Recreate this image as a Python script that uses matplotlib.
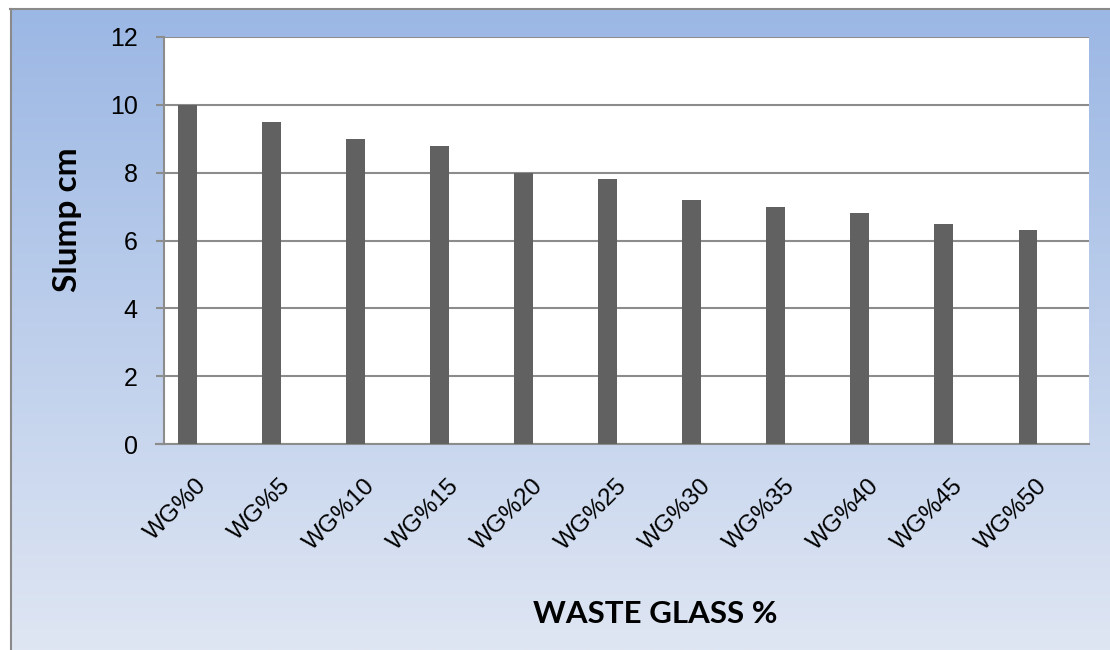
import numpy as np
import matplotlib
matplotlib.use("Agg")
import matplotlib.pyplot as plt
from matplotlib.lines import Line2D
from matplotlib.transforms import offset_copy

categories = ["WG%0", "WG%5", "WG%10", "WG%15", "WG%20", "WG%25",
              "WG%30", "WG%35", "WG%40", "WG%45", "WG%50"]
slump = [10, 9.5, 9, 8.8, 8, 7.8, 7.2, 7, 6.8, 6.5, 6.3]
yticks = [0, 2, 4, 6, 8, 10, 12]

W, H = 1110, 650
fig = plt.figure(figsize=(W / 100, H / 100), dpi=100)
fig.patch.set_facecolor("white")

# gradient background frame
bg = fig.add_axes([10 / W, 0, 1 - 10 / W, 1 - 8 / H], zorder=0)
top = np.array([155, 183, 228]) / 255
bot = np.array([223, 230, 243]) / 255
t = np.linspace(0, 1, 256)[:, None]
grad = top[None, :] * (1 - t) + bot[None, :] * t
bg.imshow(grad[:, None, :], aspect="auto", extent=[0, 1, 0, 1], origin="upper")
bg.set_axis_off()
fig.add_artist(Line2D([10 / W, 1], [1 - 8.5 / H, 1 - 8.5 / H], color="#8a8a8a", lw=1.5, transform=fig.transFigure, zorder=5))
fig.add_artist(Line2D([10.5 / W, 10.5 / W], [0, 1 - 8.5 / H], color="#8a8a8a", lw=1.5, transform=fig.transFigure, zorder=5))

ax = fig.add_axes([164 / W, 1 - 444 / H, 925 / W, (444 - 37) / H], zorder=2)
ax.set_facecolor("white")
x = np.arange(len(categories))
ax.bar(x - 0.225, slump, width=0.225, color="#616161", zorder=3)
ax.set_xlim(-0.5, len(categories) - 0.5)
ax.set_ylim(0, 12)
ax.set_yticks(yticks)
ax.set_yticklabels([str(v) for v in yticks], fontsize=18, fontfamily="Liberation Sans")
ax.yaxis.grid(True, color="#8c8c8c", lw=1.5, zorder=1)
ax.set_axisbelow(True)
for s in ["top", "right"]:
    ax.spines[s].set_visible(False)
for s in ["left", "bottom"]:
    ax.spines[s].set_color("#8c8c8c")
    ax.spines[s].set_linewidth(1.5)
ax.tick_params(axis="y", length=6, width=1.5, color="#8c8c8c", pad=13)
ax.set_xticks(x)
ax.set_xticklabels(categories, rotation=45, ha="right", va="top",
                   fontsize=17.5, fontfamily="Liberation Sans")
ax.tick_params(axis="x", length=0, pad=22)
for lb in ax.get_xticklabels():
    lb.set_transform(offset_copy(lb.get_transform(), fig=fig, x=5, y=0, units="dots"))
# extend bottom axis line to left (like tick)
ax.add_line(Line2D([-0.6, -0.5], [0, 0], color="#8c8c8c", lw=1.5, clip_on=False))

fig.text(68 / W, 1 - 220 / H, "Slump cm", rotation=90, ha="center", va="center",
         fontsize=24, fontweight="bold", fontfamily="Lato")
fig.text(655 / W, 1 - 614 / H, "WASTE GLASS %", ha="center", va="center",
         fontsize=22.5, fontweight="bold", fontfamily="Lato")

fig.savefig("out.png", dpi=100)
